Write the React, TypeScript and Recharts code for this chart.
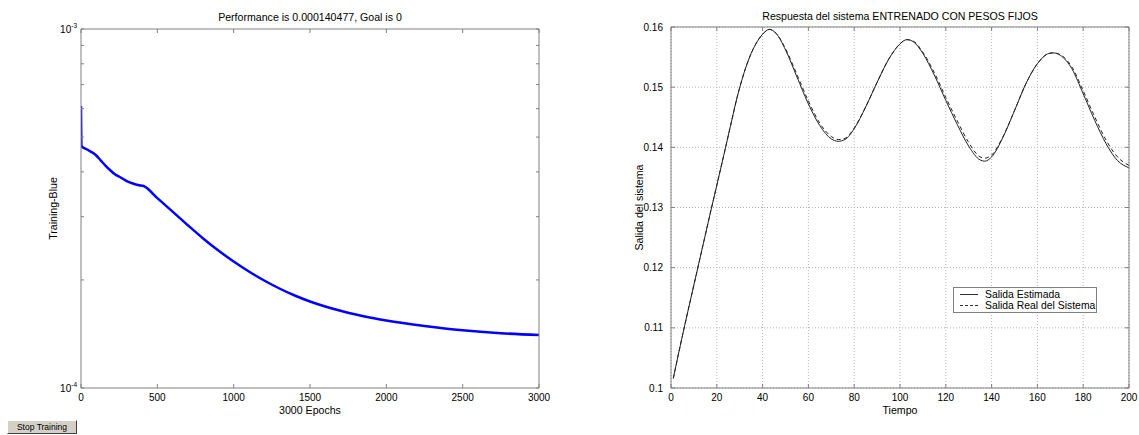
import React from 'react';
import { LineChart, Line, XAxis, YAxis, CartesianGrid, Legend } from 'recharts';

// ---------- Left chart data (training performance, log scale) ----------
const epochs = [0, 3, 40, 80, 100, 130, 160, 190, 220, 260, 300, 340, 380, 410, 500, 600, 700, 800, 900, 1000, 1100, 1200, 1300, 1400, 1500, 1600, 1700, 1800, 1900, 2000, 2250, 2500, 2750, 3000];
const trainingPerf = [6.1e-4, 4.721e-4, 4.616e-4, 4.514e-4, 4.442e-4, 4.301e-4, 4.166e-4, 4.047e-4, 3.945e-4, 3.858e-4, 3.772e-4, 3.712e-4, 3.672e-4, 3.653e-4, 3.38e-4, 3.1e-4, 2.84e-4, 2.61e-4, 2.415e-4, 2.251e-4, 2.111e-4, 1.993e-4, 1.893e-4, 1.81e-4, 1.742e-4, 1.687e-4, 1.641e-4, 1.602e-4, 1.569e-4, 1.542e-4, 1.489e-4, 1.448e-4, 1.421e-4, 1.405e-4];
const epochTicks = [0, 500, 1000, 1500, 2000, 2500, 3000];
const perfTicks = [1e-4, 2e-4, 3e-4, 4e-4, 5e-4, 6e-4, 7e-4, 8e-4, 9e-4, 1e-3];

// ---------- Right chart data (system response) ----------
const tiempo = [1, 3, 5, 8, 11, 14, 17, 20, 23, 26, 29, 32, 35, 38, 40, 43, 46, 50, 55, 60, 65, 70, 73, 76, 80, 85, 90, 95, 100, 103, 106, 110, 115, 120, 125, 130, 135, 137, 140, 145, 150, 155, 160, 165, 167, 170, 175, 180, 185, 190, 195, 200];
const salidaEstimada = [0.1016, 0.1052, 0.1087, 0.1138, 0.1188, 0.1238, 0.1288, 0.1337, 0.1386, 0.1436, 0.1485, 0.1525, 0.1556, 0.1578, 0.1588, 0.1596, 0.1589, 0.1562, 0.1517, 0.1472, 0.1436, 0.1414, 0.1410, 0.1413, 0.1431, 0.1467, 0.1508, 0.1546, 0.1572, 0.1579, 0.1575, 0.1556, 0.1520, 0.1478, 0.1438, 0.1402, 0.1379, 0.1377, 0.1384, 0.1417, 0.1461, 0.1506, 0.1539, 0.1556, 0.1557, 0.1553, 0.1531, 0.1489, 0.1445, 0.1406, 0.1378, 0.1366];
const salidaReal = [0.1016, 0.1052, 0.1087, 0.1138, 0.1188, 0.1238, 0.1288, 0.1337, 0.1386, 0.1436, 0.1485, 0.1525, 0.1556, 0.1578, 0.1588, 0.1596, 0.1589, 0.1564, 0.1521, 0.1477, 0.1440, 0.1418, 0.1413, 0.1415, 0.1432, 0.1467, 0.1508, 0.1546, 0.1572, 0.1579, 0.1576, 0.1558, 0.1524, 0.1483, 0.1444, 0.1408, 0.1384, 0.1382, 0.1387, 0.1418, 0.1461, 0.1506, 0.1539, 0.1556, 0.1557, 0.1554, 0.1534, 0.1494, 0.1451, 0.1412, 0.1384, 0.1370];
const tiempoTicks = [0, 20, 40, 60, 80, 100, 120, 140, 160, 180, 200];
const salidaTicks = [0.1, 0.11, 0.12, 0.13, 0.14, 0.15, 0.16];

const leftTitle = 'Performance is 0.000140477, Goal is 0';
const leftXLabel = '3000 Epochs';
const leftYLabel = 'Training-Blue';
const rightTitle = 'Respuesta del sistema ENTRENADO CON PESOS FIJOS';
const rightXLabel = 'Tiempo';
const rightYLabel = 'Salida del sistema';
const nameEstimada = 'Salida Estimada';
const nameReal = 'Salida Real del Sistema';

const perfRows = epochs.map((e, i) => ({ epoch: e, perf: trainingPerf[i] }));
const respRows = tiempo.map((t, i) => ({ t, est: salidaEstimada[i], real: salidaReal[i] }));

const AX = '#808080';
const TL = 4;
const FONT = '"Liberation Sans", Arial, Helvetica, sans-serif';

const fmtNum = (v: number) => String(Math.round(v * 100) / 100);
const fmtInt = (v: number) => String(v);

const bottomTick = (fmt?: (v: number) => string) => (p: any) => (
  <g>
    <line x1={p.x} y1={p.y} x2={p.x} y2={p.y - TL} stroke={AX} />
    {fmt ? (
      <text x={p.x} y={p.y + 13} textAnchor="middle" fontSize={10} fill="#000" fontFamily={FONT}>
        {fmt(p.payload.value)}
      </text>
    ) : null}
  </g>
);
const topTick = () => (p: any) => (
  <g>
    <line x1={p.x} y1={p.y} x2={p.x} y2={p.y + TL} stroke={AX} />
  </g>
);
const leftTick = (fmt?: (v: number) => string) => (p: any) => (
  <g>
    <line x1={p.x} y1={p.y} x2={p.x + TL} y2={p.y} stroke={AX} />
    {fmt ? (
      <text x={p.x - 8} y={p.y + 3.5} textAnchor="end" fontSize={10} fill="#000" fontFamily={FONT}>
        {fmt(p.payload.value)}
      </text>
    ) : null}
  </g>
);
const leftLogTick = () => (p: any) => {
  const lg = Math.log10(p.payload.value);
  const isDecade = Math.abs(lg - Math.round(lg)) < 1e-9;
  return (
    <g>
      <line x1={p.x} y1={p.y} x2={p.x + TL - 1} y2={p.y} stroke={AX} />
      {isDecade ? (
        <text x={p.x - 4} y={p.y + 3.5} textAnchor="end" fontSize={10} fill="#000" fontFamily={FONT}>
          10
          <tspan dy={-5} fontSize={6.5}>{String(Math.round(lg))}</tspan>
        </text>
      ) : null}
    </g>
  );
};
const rightTick = (len: number) => (p: any) => (
  <g>
    <line x1={p.x} y1={p.y} x2={p.x - len} y2={p.y} stroke={AX} />
  </g>
);

const titleLabel = (text: string, dy: number) => (props: any) => {
  const vb = props.viewBox || { x: 0, y: 0, width: 0, height: 0 };
  return (
    <text x={vb.x + vb.width / 2} y={vb.y + vb.height - dy} textAnchor="middle" fontSize={10.6} fill="#000" fontFamily={FONT}>
      {text}
    </text>
  );
};
const xLabel = (text: string) => (props: any) => {
  const vb = props.viewBox || { x: 0, y: 0, width: 0, height: 0 };
  return (
    <text x={vb.x + vb.width / 2} y={vb.y + 25.5} textAnchor="middle" fontSize={10.6} fill="#000" fontFamily={FONT}>
      {text}
    </text>
  );
};
const yLabel = (text: string, dx: number) => (props: any) => {
  const vb = props.viewBox || { x: 0, y: 0, width: 0, height: 0 };
  const cx = vb.x + dx;
  const cy = vb.y + vb.height / 2;
  return (
    <text x={cx} y={cy} transform={`rotate(-90 ${cx} ${cy})`} textAnchor="middle" fontSize={10.6} fill="#000" fontFamily={FONT}>
      {text}
    </text>
  );
};

const renderLegend = (props: any) => {
  const items = (props.payload || []) as any[];
  return (
    <div
      style={{
        width: 142,
        height: 24,
        border: '1px solid #808080',
        background: '#fff',
        position: 'relative',
        fontFamily: FONT,
        fontSize: 10.4,
        color: '#000',
      }}
    >
      {items.map((it, i) => (
        <div key={String(it.value)} style={{ position: 'absolute', left: 0, top: 0.5 + i * 11, height: 11, display: 'flex', alignItems: 'center' }}>
          <svg width={28} height={11} style={{ display: 'block' }}>
            <line x1={6} x2={24} y1={5.5} y2={5.5} stroke="#333" strokeWidth={1} strokeDasharray={it.payload && it.payload.strokeDasharray ? '3 2' : undefined} />
          </svg>
          <span style={{ marginLeft: 3, lineHeight: '11px', whiteSpace: 'nowrap' }}>{it.value}</span>
        </div>
      ))}
    </div>
  );
};

export default function App() {
  return (
    <div style={{ position: 'absolute', left: 0, top: 0, width: 1139, height: 435, background: '#fff', overflow: 'hidden' }}>
      <div style={{ position: 'absolute', left: 0, top: 0 }}>
        <LineChart width={560} height={435} data={perfRows} margin={{ top: 28, right: 20, bottom: 17, left: 21 }}>
          <XAxis
            dataKey="epoch"
            type="number"
            domain={[0, 3000]}
            ticks={epochTicks}
            interval={0}
            allowDataOverflow
            height={30}
            tickSize={0}
            tickMargin={0}
            tickLine={false}
            axisLine={{ stroke: AX }}
            tick={bottomTick(fmtInt)}
            label={xLabel(leftXLabel)}
          />
          <XAxis
            xAxisId="top"
            orientation="top"
            dataKey="epoch"
            type="number"
            domain={[0, 3000]}
            ticks={epochTicks}
            interval={0}
            allowDataOverflow
            height={1}
            tickSize={0}
            tickMargin={0}
            tickLine={false}
            axisLine={{ stroke: AX }}
            tick={topTick()}
            label={titleLabel(leftTitle, 8.5)}
          />
          <YAxis
            type="number"
            scale="log"
            domain={[1e-4, 1e-3]}
            ticks={perfTicks}
            interval={0}
            allowDataOverflow
            width={60}
            tickSize={0}
            tickMargin={0}
            tickLine={false}
            axisLine={{ stroke: AX }}
            tick={leftLogTick()}
            label={yLabel(leftYLabel, 35.5)}
          />
          <YAxis
            yAxisId="right"
            orientation="right"
            type="number"
            scale="log"
            domain={[1e-4, 1e-3]}
            ticks={perfTicks}
            interval={0}
            allowDataOverflow
            width={1}
            tickSize={0}
            tickMargin={0}
            tickLine={false}
            axisLine={{ stroke: AX }}
            tick={rightTick(TL - 1)}
          />
          <Line type="monotone" dataKey="perf" stroke="#0000ff" strokeWidth={2.5} dot={false} isAnimationActive={false} />
        </LineChart>
      </div>

      <div style={{ position: 'absolute', left: 580, top: 0 }}>
        <LineChart width={559} height={435} data={respRows} margin={{ top: 26, right: 9, bottom: 17, left: 31 }}>
          <CartesianGrid stroke="#b4b4b4" strokeDasharray="1 2" />
          <XAxis
            dataKey="t"
            type="number"
            domain={[0, 200]}
            ticks={tiempoTicks}
            interval={0}
            allowDataOverflow
            height={30}
            tickSize={0}
            tickMargin={0}
            tickLine={false}
            axisLine={{ stroke: AX }}
            tick={bottomTick(fmtInt)}
            label={xLabel(rightXLabel)}
          />
          <XAxis
            xAxisId="top"
            orientation="top"
            dataKey="t"
            type="number"
            domain={[0, 200]}
            ticks={tiempoTicks}
            interval={0}
            allowDataOverflow
            height={1}
            tickSize={0}
            tickMargin={0}
            tickLine={false}
            axisLine={{ stroke: AX }}
            tick={topTick()}
            label={titleLabel(rightTitle, 7.5)}
          />
          <YAxis
            type="number"
            domain={[0.1, 0.16]}
            ticks={salidaTicks}
            interval={0}
            allowDataOverflow
            width={60}
            tickSize={0}
            tickMargin={0}
            tickLine={false}
            axisLine={{ stroke: AX }}
            tick={leftTick(fmtNum)}
            label={yLabel(rightYLabel, 32)}
          />
          <YAxis
            yAxisId="right"
            orientation="right"
            type="number"
            domain={[0.1, 0.16]}
            ticks={salidaTicks}
            interval={0}
            allowDataOverflow
            width={1}
            tickSize={0}
            tickMargin={0}
            tickLine={false}
            axisLine={{ stroke: AX }}
            tick={rightTick(TL)}
          />
          <Legend
            layout="vertical"
            align="center"
            verticalAlign="middle"
            content={renderLegend}
            wrapperStyle={{ left: 373, top: 287, width: 144, height: 26 }}
          />
          <Line type="monotone" dataKey="est" name={nameEstimada} stroke="#222" strokeWidth={1} dot={false} isAnimationActive={false} />
          <Line type="monotone" dataKey="real" name={nameReal} stroke="#222" strokeWidth={1} strokeDasharray="4 3" dot={false} isAnimationActive={false} />
        </LineChart>
      </div>

      <div
        style={{
          position: 'absolute',
          left: 7,
          top: 420,
          width: 68,
          height: 12,
          background: '#d4d0c8',
          borderTop: '1px solid #ffffff',
          borderLeft: '1px solid #ffffff',
          borderRight: '1px solid #404040',
          borderBottom: '1px solid #404040',
          fontFamily: FONT,
          fontSize: 8.5,
          lineHeight: '12px',
          textAlign: 'center',
          color: '#000',
          whiteSpace: 'nowrap',
        }}
      >
        Stop Training
      </div>
    </div>
  );
}
